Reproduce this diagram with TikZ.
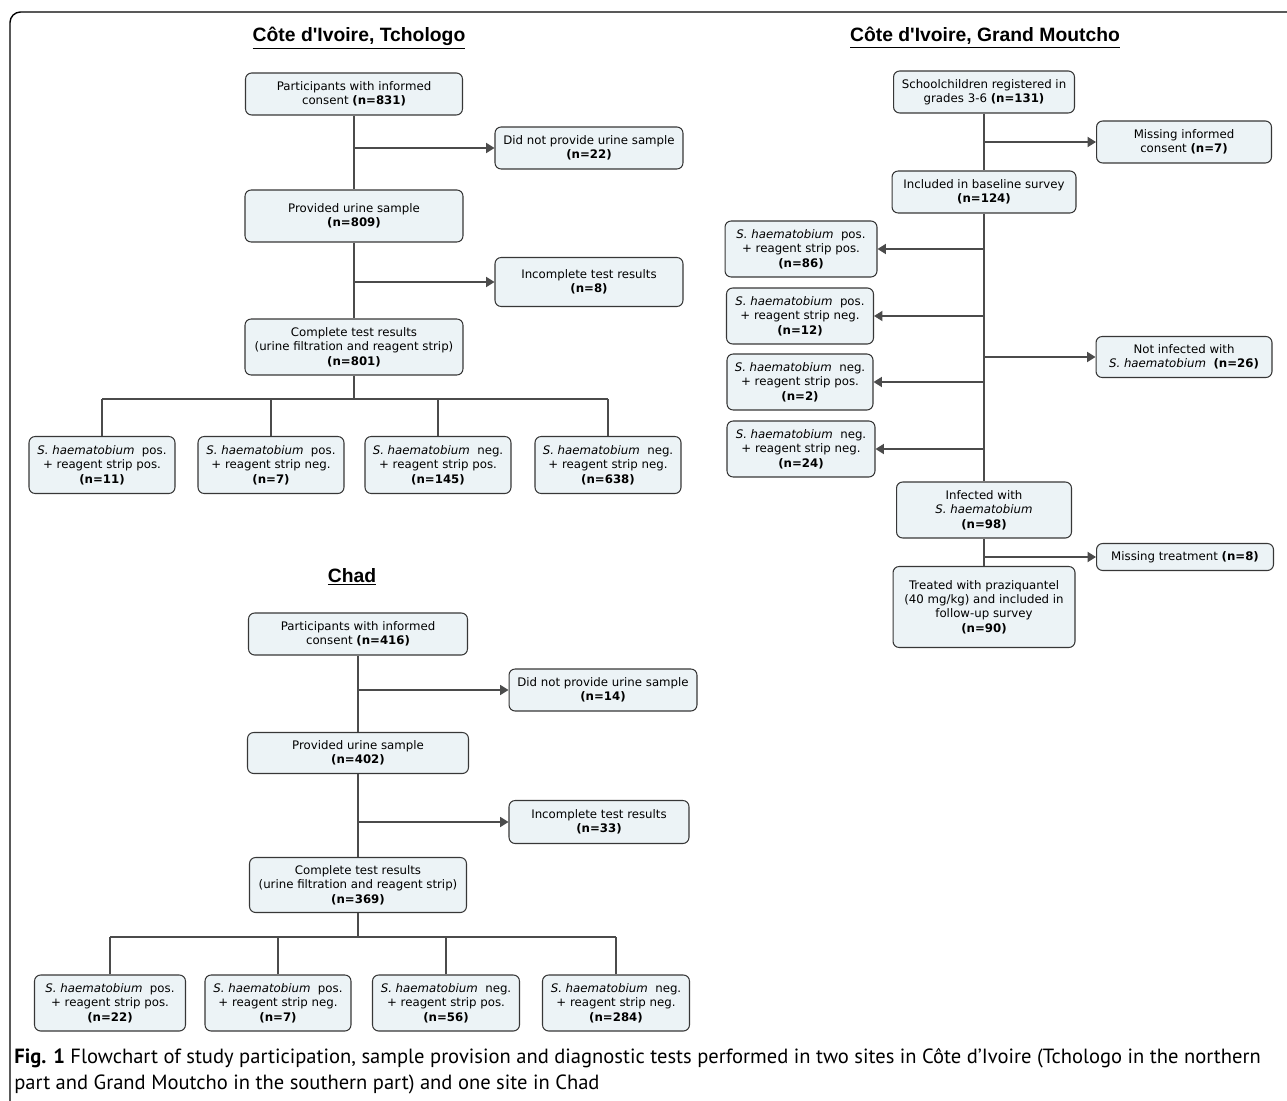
\documentclass[tikz,border=0pt]{standalone}
\usepackage{fontspec}
\setmainfont{DejaVu Sans}
\newfontfamily\titlefont{Liberation Sans}
\newfontfamily\capfont{PT Sans}
\usepackage{xcolor}
\usepackage{tikz}
\usetikzlibrary{arrows.meta, positioning, calc}
\definecolor{box_fill}{RGB}{236, 243, 246}
\definecolor{box_line}{RGB}{55, 55, 55}
\definecolor{conn_line}{RGB}{75, 75, 75}

\newcommand{\shpos}{\textit{S. haematobium}\ \ pos.}
\newcommand{\shneg}{\textit{S. haematobium}\ \ neg.}

\begin{document}
\begin{tikzpicture}[x=0.02cm, y=-0.02cm,
      font=\fontsize{6.7}{8.2}\selectfont,
      blk/.style={draw=box_line, fill=box_fill, line width=0.6pt,
                  rounded corners=3.5pt, align=center, inner sep=1pt},
      ttl/.style={font=\titlefont\bfseries\fontsize{11}{13}\selectfont},
      ln/.style={conn_line, line width=0.7pt},
      arr/.style={ln, -{Triangle[length=4.8pt, width=5.8pt]}}]
  \useasboundingbox (0,0) rectangle (1287,1101);
  % frame
  \draw[line width=0.8pt, rounded corners=6pt] (1287,12) -- (10,12) -- (10,1101);

  % Cote d'Ivoire, Tchologo
  \node[ttl] (tcTitle) at (359,38) {\underline{Côte d'Ivoire, Tchologo}};
  \node[blk, minimum width=4.34cm, minimum height=0.84cm] (tc1)
    at (354,94) {Participants with informed\\consent \textbf{(n=831)}};
  \node[blk, minimum width=3.76cm, minimum height=0.84cm] (tcNo)
    at (589,148) {Did not provide urine sample\\\textbf{(n=22)}};
  \node[blk, minimum width=4.36cm, minimum height=1.04cm] (tc2)
    at (354,216) {Provided urine sample\\\textbf{(n=809)}};
  \node[blk, minimum width=3.76cm, minimum height=0.98cm] (tcInc)
    at (589,282) {Incomplete test results\\\textbf{(n=8)}};
  \node[blk, minimum width=4.36cm, minimum height=1.12cm] (tc3)
    at (354,347) {Complete test results\\(urine filtration and reagent strip)\\\textbf{(n=801)}};
  \node[blk, minimum width=2.92cm, minimum height=1.14cm] (tcA)
    at (102,465) {\shpos\\+ reagent strip pos.\\\textbf{(n=11)}};
  \node[blk, minimum width=2.92cm, minimum height=1.14cm] (tcB)
    at (271,465) {\shpos\\+ reagent strip neg.\\\textbf{(n=7)}};
  \node[blk, minimum width=2.92cm, minimum height=1.14cm] (tcC)
    at (438,465) {\shneg\\+ reagent strip pos.\\\textbf{(n=145)}};
  \node[blk, minimum width=2.92cm, minimum height=1.14cm] (tcD)
    at (608,465) {\shneg\\+ reagent strip neg.\\\textbf{(n=638)}};
  \coordinate (tcBus) at (354,399);
  \draw[ln] (tc1) -- (tc2);
  \draw[ln] (tc2) -- (tc3);
  \draw[arr] (tc1 |- tcNo.west) -- (tcNo.west);
  \draw[arr] (tc2 |- tcInc.west) -- (tcInc.west);
  \draw[ln] (tc3) -- (tcBus);
  \draw[ln] (tcA |- tcBus) -- (tcD |- tcBus);
  \foreach \b in {tcA,tcB,tcC,tcD}
    \draw[ln] (\b.north) -- (\b |- tcBus);

  % Cote d'Ivoire, Grand Moutcho
  \node[ttl] (gmTitle) at (985,38) {\underline{Côte d'Ivoire, Grand Moutcho}};
  \node[blk, minimum width=3.62cm, minimum height=0.84cm] (gm1)
    at (984,92) {Schoolchildren registered in\\grades 3-6 \textbf{(n=131)}};
  \node[blk, minimum width=3.5cm, minimum height=0.84cm] (gmMiss)
    at (1184,142) {Missing informed\\consent \textbf{(n=7)}};
  \node[blk, minimum width=3.68cm, minimum height=0.84cm] (gm2)
    at (984,192) {Included in baseline survey\\\textbf{(n=124)}};
  \node[blk, minimum width=3.04cm, minimum height=1.12cm] (gmL1)
    at (801,249) {\shpos\\+ reagent strip pos.\\\textbf{(n=86)}};
  \node[blk, minimum width=2.94cm, minimum height=1.12cm] (gmL2)
    at (800,316) {\shpos\\+ reagent strip neg.\\\textbf{(n=12)}};
  \node[blk, minimum width=3.52cm, minimum height=0.82cm] (gmNot)
    at (1184,357) {Not infected with\\\textit{S. haematobium}\ \ \textbf{(n=26)}};
  \node[blk, minimum width=2.92cm, minimum height=1.12cm] (gmL3)
    at (800,382) {\shneg\\+ reagent strip pos.\\\textbf{(n=2)}};
  \node[blk, minimum width=2.96cm, minimum height=1.12cm] (gmL4)
    at (801,449) {\shneg\\+ reagent strip neg.\\\textbf{(n=24)}};
  \node[blk, minimum width=3.5cm, minimum height=1.12cm] (gm3)
    at (984,510) {Infected with\\\textit{S. haematobium}\\\textbf{(n=98)}};
  \node[blk, minimum width=3.54cm, minimum height=0.54cm] (gmTreat)
    at (1185,557) {Missing treatment \textbf{(n=8)}};
  \node[blk, minimum width=3.64cm, minimum height=1.62cm] (gm4)
    at (984,607) {Treated with praziquantel\\(40 mg/kg) and included in\\follow-up survey\\\textbf{(n=90)}};
  \draw[ln] (gm1) -- (gm2);
  \draw[ln] (gm2) -- (gm3);
  \draw[ln] (gm3) -- (gm4);
  \draw[arr] (gm1 |- gmMiss.west) -- (gmMiss.west);
  \foreach \b in {gmL1,gmL2,gmL3,gmL4}
    \draw[arr] (gm2 |- \b.east) -- (\b.east);
  \draw[arr] (gm2 |- gmNot.west) -- (gmNot.west);
  \draw[arr] (gm3 |- gmTreat.west) -- (gmTreat.west);

  % Chad
  \node[ttl] (chTitle) at (352,577) {\underline{Chad}};
  \node[blk, minimum width=4.38cm, minimum height=0.84cm] (ch1)
    at (358,634) {Participants with informed\\consent \textbf{(n=416)}};
  \node[blk, minimum width=3.76cm, minimum height=0.84cm] (chNo)
    at (603,690) {Did not provide urine sample\\\textbf{(n=14)}};
  \node[blk, minimum width=4.42cm, minimum height=0.82cm] (ch2)
    at (358,753) {Provided urine sample\\\textbf{(n=402)}};
  \node[blk, minimum width=3.6cm, minimum height=0.86cm] (chInc)
    at (599,822) {Incomplete test results\\\textbf{(n=33)}};
  \node[blk, minimum width=4.34cm, minimum height=1.1cm] (ch3)
    at (358,885) {Complete test results\\(urine filtration and reagent strip)\\\textbf{(n=369)}};
  \node[blk, minimum width=3.02cm, minimum height=1.12cm] (chA)
    at (110,1003) {\shpos\\+ reagent strip pos.\\\textbf{(n=22)}};
  \node[blk, minimum width=2.92cm, minimum height=1.12cm] (chB)
    at (278,1003) {\shpos\\+ reagent strip neg.\\\textbf{(n=7)}};
  \node[blk, minimum width=2.94cm, minimum height=1.12cm] (chC)
    at (446,1003) {\shneg\\+ reagent strip pos.\\\textbf{(n=56)}};
  \node[blk, minimum width=2.94cm, minimum height=1.12cm] (chD)
    at (616,1003) {\shneg\\+ reagent strip neg.\\\textbf{(n=284)}};
  \coordinate (chBus) at (358,937);
  \draw[ln] (ch1) -- (ch2);
  \draw[ln] (ch2) -- (ch3);
  \draw[arr] (ch1 |- chNo.west) -- (chNo.west);
  \draw[arr] (ch2 |- chInc.west) -- (chInc.west);
  \draw[ln] (ch3) -- (chBus);
  \draw[ln] (chA |- chBus) -- (chD |- chBus);
  \foreach \b in {chA,chB,chC,chD}
    \draw[ln] (\b.north) -- (\b |- chBus);

  % caption
  \node[anchor=base west, align=left, inner sep=0pt,
        font=\capfont\fontsize{11.7}{14.7}\selectfont] (cap) at (14,1089)
    {\textbf{Fig. 1} Flowchart of study participation, sample provision and diagnostic tests performed in two sites in Côte d’Ivoire (Tchologo in the northern\\
     part and Grand Moutcho in the southern part) and one site in Chad};
\end{tikzpicture}
\end{document}
